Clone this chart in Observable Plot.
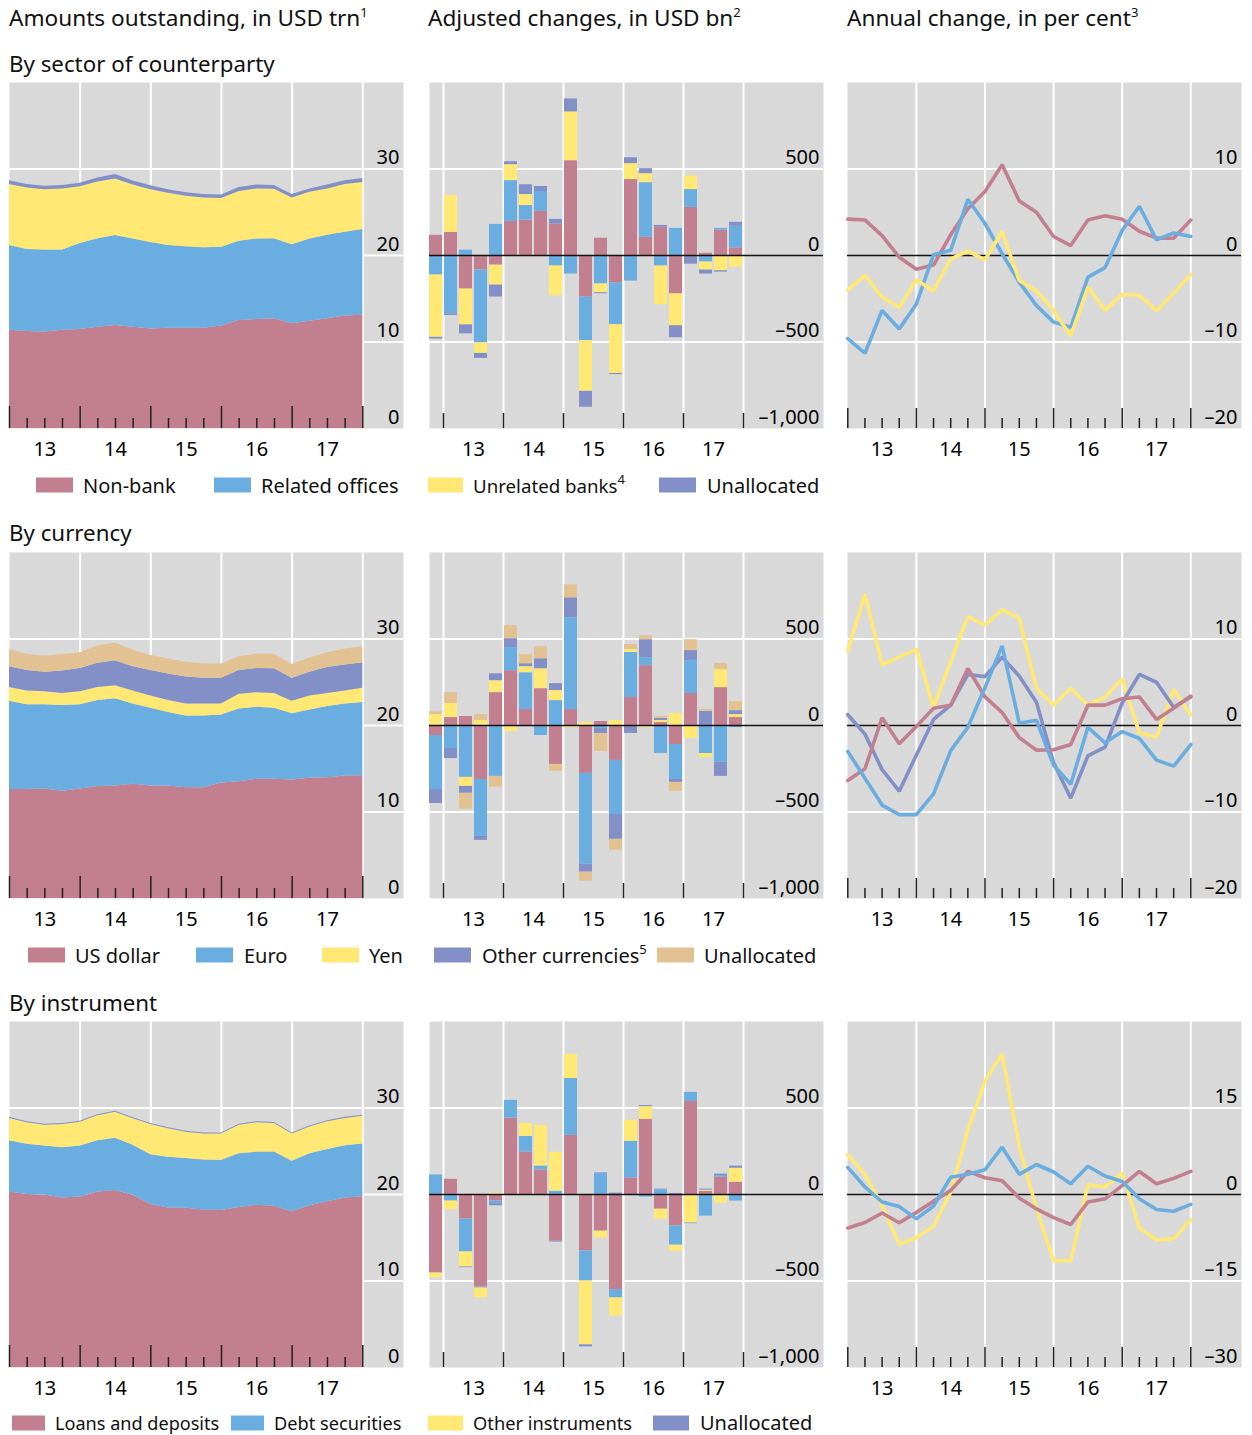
<!DOCTYPE html>
<html><head><meta charset="utf-8">
<script src="https://cdn.jsdelivr.net/npm/d3@7"></script>
<script src="https://cdn.jsdelivr.net/npm/@observablehq/plot@0.6"></script>
<style>
body{margin:0;background:#fff;}
#root{position:relative;width:1252px;height:1435px;overflow:hidden;background:#fff;}
.panel{position:absolute;}
.panel svg{display:block;overflow:visible;}
</style></head><body><div id="root"></div>
<script>
// ---------- data (quarterly, 2012Q4 .. 2017Q4; index 0..20) ----------
const quarters = ["2012Q4","2013Q1","2013Q2","2013Q3","2013Q4","2014Q1","2014Q2","2014Q3","2014Q4","2015Q1","2015Q2","2015Q3","2015Q4","2016Q1","2016Q2","2016Q3","2016Q4","2017Q1","2017Q2","2017Q3","2017Q4"];
const yearLabels = ["13","14","15","16","17"];

// Row 1: by sector of counterparty
const sectorNames = ["Non-bank","Related offices","Unrelated banks","Unallocated"];
const sectorNonBank   = [11.35,11.2,11.15,11.35,11.45,11.7,11.9,11.7,11.5,11.6,11.6,11.6,11.85,12.5,12.6,12.7,12.1,12.4,12.7,13.0,13.1];
const sectorRelated   = [9.8,9.5,9.5,9.3,9.95,10.25,10.4,10.2,10.0,9.55,9.4,9.3,9.1,9.15,9.3,9.25,9.15,9.5,9.65,9.7,9.9];
const sectorUnrelated = [7.05,7.1,6.95,7.05,6.55,6.55,6.55,6.25,6.1,6.05,5.85,5.75,5.65,5.75,5.8,5.7,5.4,5.4,5.35,5.5,5.45];
const sectorUnalloc   = [0.45,0.4,0.4,0.4,0.4,0.45,0.5,0.45,0.45,0.4,0.4,0.4,0.4,0.45,0.45,0.45,0.4,0.4,0.45,0.45,0.45];

const sectorChgNonBank   = [117,134,-194,-84,-56,197,205,255,182,548,-241,100,-159,439,105,163,-222,278,13,146,44];
const sectorChgRelated   = [-113,-337,31,-421,180,236,84,115,-61,-107,-251,-165,-241,-148,316,-61,157,103,-38,11,125];
const sectorChgUnrelated = [-360,213,-207,-61,-115,92,63,-5,-172,282,-293,-50,-282,92,52,-224,-184,80,-46,-88,-67];
const sectorChgUnalloc   = [-10,-10,-52,-29,-69,17,57,29,27,75,-92,-6,-6,34,29,11,-69,-50,-23,-8,23];

const sectorGrNonBank   = [4.2,4.1,2.3,-0.2,-1.6,-1.1,2.4,5.4,7.4,10.5,6.3,5.0,2.2,1.15,4.1,4.6,4.2,2.8,2.0,2.0,4.1];
const sectorGrRelated   = [-9.6,-11.3,-6.35,-8.5,-5.6,0.1,0.6,6.5,3.7,0.2,-3.1,-5.8,-7.7,-8.3,-2.5,-1.4,2.9,5.7,1.8,2.6,2.2];
const sectorGrUnrelated = [-4.0,-2.3,-4.8,-6.0,-2.8,-4.1,-0.4,0.5,-0.5,2.8,-2.9,-4.1,-6.35,-9.3,-3.65,-6.35,-4.5,-4.6,-6.35,-4.35,-2.2];

// Row 2: by currency
const curNames = ["US dollar","Euro","Yen","Other currencies","Unallocated"];
const curUSD     = [12.6,12.6,12.65,12.4,12.65,12.95,13.0,13.2,13.0,13.0,12.8,12.8,13.35,13.5,13.8,13.8,13.7,13.9,13.95,14.15,14.2];
const curEUR     = [10.2,9.8,9.75,9.9,9.75,9.95,10.1,9.3,9.0,8.5,8.3,8.3,7.85,8.4,8.3,8.2,7.65,7.9,8.25,8.35,8.45];
const curJPY     = [1.6,1.6,1.5,1.4,1.5,1.5,1.5,1.5,1.4,1.4,1.4,1.4,1.3,1.7,1.7,1.7,1.45,1.6,1.5,1.5,1.65];
const curOther   = [2.4,2.35,2.25,2.6,2.7,2.8,2.9,2.8,2.95,3.05,3.1,2.95,2.95,2.75,2.8,2.85,2.65,2.75,3.0,3.0,2.95];
const curUnalloc = [2.0,1.9,1.85,1.9,1.8,2.0,2.05,1.9,1.75,1.75,1.7,1.65,1.65,1.6,1.65,1.7,1.6,1.65,1.7,1.85,1.85];

const curChgUSD     = [-58,46,52,-312,190,317,92,213,-225,92,-277,23,-202,162,346,17,-110,185,0,219,46];
const curChgEUR     = [-312,-133,-300,-329,-294,133,213,-58,144,531,-525,-17,-312,260,46,-162,-202,190,-162,-213,-12];
const curChgJPY     = [63,81,-52,29,69,-35,35,115,58,-12,17,0,29,17,-12,12,69,-75,-23,104,17];
const curChgOther   = [-81,-58,-40,-23,40,52,17,58,40,115,-46,-29,-144,-46,104,12,-17,58,81,-81,23];
const curChgUnalloc = [17,63,-92,35,-63,75,52,69,-40,75,-52,-104,-63,29,23,12,-52,63,12,35,52];

const curGrUSD   = [-6.35,-5.0,0.9,-2.1,-0.1,2.0,2.35,6.6,3.3,1.5,-1.4,-2.85,-2.8,-2.2,2.35,2.35,3.1,3.3,0.7,2.0,3.4];
const curGrEUR   = [-3.0,-6.1,-9.2,-10.3,-10.3,-7.9,-2.9,-0.2,4.4,9.2,0.25,0.6,-4.6,-6.8,-0.2,-2.0,-0.7,-1.5,-4.0,-4.7,-2.2];
const curGrJPY   = [8.6,15.2,7.0,7.9,8.8,2.1,7.4,12.6,11.6,13.4,12.4,4.3,2.35,4.3,2.35,3.3,5.4,-0.85,-1.35,4.15,1.2];
const curGrOther = [1.25,-1.0,-5.1,-7.6,-3.4,0.7,2.35,5.9,5.65,7.9,5.7,2.7,-4.3,-8.4,-3.5,-2.5,2.6,5.9,5.0,2.1,3.3];

// Row 3: by instrument
const insNames = ["Loans and deposits","Debt securities","Other instruments","Unallocated"];
const insLoans   = [20.3,20.0,19.95,19.6,19.7,20.3,20.45,19.9,18.85,18.45,18.4,18.2,18.15,18.5,18.75,18.65,18.0,18.7,19.15,19.6,19.75];
const insDebt    = [5.9,5.8,5.65,5.8,5.9,5.9,6.05,5.8,5.75,5.85,5.75,5.8,5.8,6.2,6.15,6.25,5.85,6.0,6.05,6.05,6.1];
const insOther   = [2.6,2.5,2.4,2.7,2.75,2.9,3.0,3.05,3.5,3.3,3.05,3.0,3.05,3.3,3.4,3.3,3.15,3.1,3.2,3.15,3.2];
const insUnalloc = [0.12,0.12,0.12,0.12,0.12,0.12,0.12,0.12,0.12,0.12,0.12,0.12,0.12,0.12,0.12,0.12,0.12,0.12,0.12,0.12,0.12];

const insChgLoans   = [-454,88,-142,-535,-38,442,246,142,-269,342,-327,-212,-550,96,435,-85,-181,538,19,100,71];
const insChgDebt    = [113,-38,-190,-6,-15,102,90,23,19,329,-173,121,-48,212,-15,27,-112,52,-125,10,-38];
const insChgOther   = [-27,-50,-87,-56,8,0,75,235,225,138,-369,-40,-104,121,73,-58,-35,-165,6,-50,81];
const insChgUnalloc = [0,0,-4,0,-12,0,0,0,-6,0,-12,4,8,0,6,4,6,-4,6,8,12];

const insGrLoans = [-5.8,-4.85,-3.2,-4.9,-3.1,-1.15,0.7,4.0,2.9,2.4,-0.6,-2.5,-4.0,-5.2,-1.3,-0.75,1.55,4.0,1.85,2.8,4.0];
const insGrDebt  = [4.7,1.3,-1.3,-2.1,-4.2,-2.0,3.0,3.5,4.3,8.2,3.5,5.2,3.9,1.85,4.9,3.2,2.25,-0.75,-2.6,-2.9,-1.7];
const insGrOther = [6.9,3.5,-1.9,-8.65,-7.5,-5.5,0.4,11.1,19.7,24.35,8.3,-2.5,-11.5,-11.5,1.7,1.3,3.7,-5.8,-7.85,-7.7,-4.4];

// axis ticks
const levelTicks = [0,10,20,30];
const changeTicks = [-1000,-500,0,500];
const growthTicks20 = [-20,-10,0,10];
const growthTicks30 = [-30,-15,0,15];

// ---------- style ----------
const C = {pink:"#C27F8F", blue:"#6AADE0", yellow:"#FFE873", purple:"#8390C7", tan:"#E2C292", gray:"#D9D9D9"};
const FONT = '"Noto Sans", sans-serif';
const PW = 394, PH = 346, MB = 36;
const colLeft = [9, 429, 847];
const rowTop = [82, 552, 1021];
const TICKFS = 20;

function long(names, arrays) {
  const out = [];
  names.forEach((s, k) => arrays[k].forEach((v, i) => out.push({i, quarter: quarters[i], series: s, value: v})));
  return out;
}
const fmt = d => (d < 0 ? "\u2013" : "") + d3.format(",")(Math.abs(d));
const quarterIdx = d3.range(quarters.length);
const majorQ = quarterIdx.filter(i => i % 4 === 0);
const minorQ = quarterIdx.filter(i => i % 4 !== 0);

function yLabels(ticks) {
  return Plot.text(ticks, {y: d => d, text: d => fmt(d), frameAnchor: "right", textAnchor: "end",
    dx: -4, dy: -5, lineAnchor: "bottom", fontSize: TICKFS, fill: "#000"});
}
function xLabels(pos) {
  return Plot.text(pos.map((x, k) => ({x, label: yearLabels[k]})), {x: "x", text: "label",
    frameAnchor: "bottom", lineAnchor: "top", dy: 13, fontSize: TICKFS, fill: "#000"});
}
function base(xDomain, yDomain, names, colors, marks) {
  return Plot.plot({
    width: PW, height: PH + MB, marginLeft: 0, marginRight: 0, marginTop: 0, marginBottom: MB,
    style: {fontFamily: FONT, background: "transparent", overflow: "visible"},
    x: {domain: xDomain, axis: null},
    y: {domain: yDomain, axis: null},
    color: {domain: names, range: colors},
    marks
  });
}

function areaPanel(names, colors, arrays) {
  const step = 17.665;
  const data = long(names, arrays);
  return base([0, PW / step], [0, 40], names, colors, [
    Plot.frame({fill: C.gray, stroke: "none"}),
    Plot.ruleY(levelTicks.slice(1), {stroke: "white", strokeWidth: 2}),
    Plot.ruleX(majorQ.slice(1), {stroke: "white", strokeWidth: 2}),
    Plot.areaY(data, {x: "i", y: "value", fill: "series", z: "series"}),
    Plot.tickX(majorQ, {x: d => d, stroke: "#222", strokeWidth: 1.5, insetTop: PH - 22}),
    Plot.tickX(minorQ, {x: d => d, stroke: "#222", strokeWidth: 1.5, insetTop: PH - 10}),
    yLabels(levelTicks),
    xLabels([2, 6, 10, 14, 18])
  ]);
}

function barPanel(names, colors, arrays) {
  const step = 15, off = 6.5, half = 0.433;
  const data = long(names, arrays);
  const bounds = [0.5, 4.5, 8.5, 12.5, 16.5, 20.5];
  return base([-off / step, (PW - off) / step], [-1000, 1000], names, colors, [
    Plot.frame({fill: C.gray, stroke: "none"}),
    Plot.ruleY([-500, 500], {stroke: "white", strokeWidth: 2}),
    Plot.ruleX(bounds, {stroke: "white", strokeWidth: 2}),
    Plot.rectY(data, {x1: d => d.i - half, x2: d => d.i + half, y: "value", fill: "series", z: "series"}),
    Plot.ruleY([0], {stroke: "#111", strokeWidth: 1.5}),
    Plot.tickX(bounds, {x: d => d, stroke: "#222", strokeWidth: 1.5, insetTop: PH - 15}),
    yLabels(changeTicks),
    xLabels([2.5, 6.5, 10.5, 14.5, 18.5])
  ]);
}

function linePanel(names, colors, arrays, ticks) {
  const step = 17.15, off = 0.3;
  const data = long(names, arrays);
  const lim = -ticks[0];
  return base([-off / step, (PW - off) / step], [-lim, lim], names, colors, [
    Plot.frame({fill: C.gray, stroke: "none"}),
    Plot.ruleY([ticks[1], ticks[3]], {stroke: "white", strokeWidth: 2}),
    Plot.ruleX(majorQ.slice(1), {stroke: "white", strokeWidth: 2}),
    Plot.ruleY([0], {stroke: "#111", strokeWidth: 1.5}),
    Plot.lineY(data, {x: "i", y: "value", stroke: "series", z: "series", strokeWidth: 3.6, strokeLinejoin: "miter"}),
    Plot.tickX(majorQ, {x: d => d, stroke: "#222", strokeWidth: 1.5, insetTop: PH - 20}),
    Plot.tickX(minorQ, {x: d => d, stroke: "#222", strokeWidth: 1.5, insetTop: PH - 10}),
    yLabels(ticks),
    xLabels([2, 6, 10, 14, 18])
  ]);
}

const root = document.getElementById("root");
function place(svg, col, row) {
  const div = document.createElement("div");
  div.className = "panel";
  div.style.left = colLeft[col] + "px";
  div.style.top = rowTop[row] + "px";
  div.appendChild(svg);
  root.appendChild(div);
}

const sectorColors = [C.pink, C.blue, C.yellow, C.purple];
place(areaPanel(sectorNames, sectorColors, [sectorNonBank, sectorRelated, sectorUnrelated, sectorUnalloc]), 0, 0);
place(barPanel(sectorNames, sectorColors, [sectorChgNonBank, sectorChgRelated, sectorChgUnrelated, sectorChgUnalloc]), 1, 0);
place(linePanel(sectorNames.slice(0, 3), sectorColors.slice(0, 3), [sectorGrNonBank, sectorGrRelated, sectorGrUnrelated], growthTicks20), 2, 0);

const curColors = [C.pink, C.blue, C.yellow, C.purple, C.tan];
place(areaPanel(curNames, curColors, [curUSD, curEUR, curJPY, curOther, curUnalloc]), 0, 1);
place(barPanel(curNames, curColors, [curChgUSD, curChgEUR, curChgJPY, curChgOther, curChgUnalloc]), 1, 1);
place(linePanel(["Yen","Other currencies","US dollar","Euro"], [C.yellow, C.purple, C.pink, C.blue], [curGrJPY, curGrOther, curGrUSD, curGrEUR], growthTicks20), 2, 1);

const insColors = [C.pink, C.blue, C.yellow, C.purple];
place(areaPanel(insNames, insColors, [insLoans, insDebt, insOther, insUnalloc]), 0, 2);
place(barPanel(insNames, insColors, [insChgLoans, insChgDebt, insChgOther, insChgUnalloc]), 1, 2);
place(linePanel(["Other instruments","Loans and deposits","Debt securities"], [C.yellow, C.pink, C.blue], [insGrOther, insGrLoans, insGrDebt], growthTicks30), 2, 2);

// ---------- titles and legends ----------
const svg = d3.select(root).append("svg").attr("width", 1252).attr("height", 1435)
  .style("position", "absolute").style("left", 0).style("top", 0).style("pointer-events", "none")
  .style("font-family", FONT);
function label(x, y, text, sup, size) {
  const t = svg.append("text").attr("x", x).attr("y", y).attr("font-size", size).attr("fill", "#111").text(text);
  if (sup) t.append("tspan").attr("dy", -9).attr("font-size", 13).text(sup);
}
label(9, 25.5, "Amounts outstanding, in USD trn", "1", 22.6);
label(428, 25.5, "Adjusted changes, in USD bn", "2", 22.6);
label(847, 25.5, "Annual change, in per cent", "3", 22.6);
label(9, 71.5, "By sector of counterparty", null, 22.3);
label(9, 541, "By currency", null, 22.3);
label(9, 1010.5, "By instrument", null, 22.3);

// items: [swatch x0, swatch x1, text x, superscript, font size]
function legend(items, names, colors, yBase, swTop, swH) {
  items.forEach((it, k) => {
    svg.append("rect").attr("x", it[0]).attr("y", swTop).attr("width", it[1] - it[0]).attr("height", swH).attr("fill", colors[k]);
    label(it[2], yBase, names[k], it[3], it[4] || 20);
  });
}
legend([[36, 73, 83], [214, 251, 261], [428, 463, 473, "4", 18.7], [659, 696, 707]], sectorNames, sectorColors, 492.7, 477.5, 15);
legend([[28, 65, 75], [196, 233, 244], [322, 359, 369], [434, 471, 482, "5"], [657, 694, 704]], curNames, curColors, 963, 947.5, 15);
legend([[12, 45, 55, null, 18.1], [231, 264, 274, null, 18.2], [428, 463, 473, null, 18.3], [653, 689, 700]], insNames, insColors, 1430, 1415.5, 15);
</script></body></html>
